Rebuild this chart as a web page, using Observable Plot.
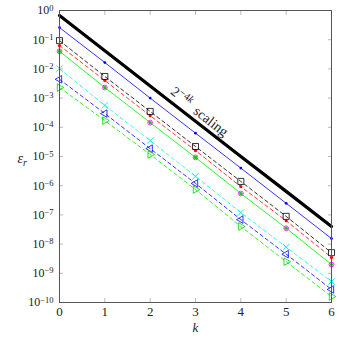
<!DOCTYPE html>
<html><head><meta charset="utf-8">
<script src="https://cdn.jsdelivr.net/npm/d3@7"></script>
<script src="https://cdn.jsdelivr.net/npm/@observablehq/plot@0.6"></script>
<style>body{margin:0;background:#fff}</style>
</head><body><div id="chart"></div>
<script>
const k = [0, 1, 2, 3, 4, 5, 6];
const yTicks = [1, 1e-1, 1e-2, 1e-3, 1e-4, 1e-5, 1e-6, 1e-7, 1e-8, 1e-9, 1e-10];
const scalingRef = [0.68, 4.2e-2, 2.6e-3, 1.6e-4, 1.0e-5, 6.4e-7, 4.0e-8];
const blueSolid = [0.26, 1.65e-2, 1.0e-3, 6.3e-5, 4.0e-6, 2.5e-7, 1.55e-8];
const blackSquares = [0.093, 5.5e-3, 3.5e-4, 2.2e-5, 1.4e-6, 8.9e-8, 5.1e-9];
const redDashed = [0.063, 4.0e-3, 2.5e-4, 1.6e-5, 9.3e-7, 6.3e-8, 3.5e-9];
const greenSolid = [0.040, 2.3e-3, 1.45e-4, 9.3e-6, 5.4e-7, 3.5e-8, 2.0e-9];
const magentaCircles = [0.040, 2.3e-3, 1.45e-4, 9.3e-6, 5.4e-7, 3.5e-8, 2.0e-9];
const cyanDashed = [0.0102, 5.6e-4, 3.5e-5, 2.1e-6, 1.2e-7, 7.9e-9, 5.2e-10];
const blueDashed = [4.4e-3, 2.95e-4, 1.86e-5, 1.2e-6, 6.9e-8, 4.5e-9, 2.8e-10];
const greenDashed = [2.3e-3, 1.7e-4, 1.17e-5, 7.4e-7, 4.0e-8, 2.5e-9, 1.6e-10];
const annotation = {k: 3.1, e: 3.6e-4, text: "2^-4k scaling"};

const rows = vals => k.map((kk, i) => ({k: kk, e: vals[i]}));
const dash = "3.5,3";
const font = "'Liberation Serif', 'DejaVu Serif', serif";

const chart = Plot.plot({
  width: 339, height: 339,
  marginLeft: 59, marginRight: 8, marginTop: 10, marginBottom: 37,
  style: {fontFamily: font, fontSize: "12px", color: "#222", background: "white"},
  x: {domain: [0, 6]},
  y: {type: "log", domain: [1e-10, 1]},
  marks: [
    Plot.axisX(k, {anchor: "bottom", tickSize: 4, dy: -4, tickFormat: () => "", label: null, stroke: "#bbb"}),
    Plot.axisX(k, {anchor: "top", tickSize: 4, dy: 4, tickFormat: () => "", label: null, stroke: "#bbb"}),
    Plot.axisY(yTicks, {anchor: "left", tickSize: 4, dx: 4, tickFormat: () => "", label: null, stroke: "#bbb"}),
    Plot.axisY(yTicks, {anchor: "right", tickSize: 4, dx: -4, tickFormat: () => "", label: null, stroke: "#bbb"}),
    Plot.axisX(k, {anchor: "bottom", tickSize: 0, tickPadding: 4, label: null, fontSize: 13, fill: "#222"}),
    Plot.axisY(yTicks, {anchor: "left", tickSize: 0, tickPadding: 6, label: null, fontSize: 12, fill: "#222",
      tickFormat: d => String(Math.round(Math.log10(d)))}),

    Plot.line(rows(scalingRef), {x: "k", y: "e", stroke: "black", strokeWidth: 3.2}),
    Plot.line(rows(blueSolid), {x: "k", y: "e", stroke: "#0000ff", strokeWidth: 0.8}),
    Plot.dot(rows(blueSolid), {x: "k", y: "e", fill: "#0000ff", r: 1.4}),
    Plot.line(rows(blackSquares), {x: "k", y: "e", stroke: "black", strokeWidth: 0.8, strokeDasharray: dash}),
    Plot.line(rows(redDashed), {x: "k", y: "e", stroke: "#ff0000", strokeWidth: 0.8, strokeDasharray: dash}),
    Plot.dot(rows(redDashed), {x: "k", y: "e", fill: "#ff0000", r: 1.6}),
    Plot.line(rows(greenSolid), {x: "k", y: "e", stroke: "#00ee00", strokeWidth: 0.8}),
    Plot.dot(rows(greenSolid), {x: "k", y: "e", fill: "#00cc00", r: 1.6}),
    Plot.dot(rows(magentaCircles), {x: "k", y: "e", stroke: "#ff00ff", strokeWidth: 0.8, r: 2.4}),
    Plot.line(rows(cyanDashed), {x: "k", y: "e", stroke: "#00ffff", strokeWidth: 0.8, strokeDasharray: dash}),
    Plot.dot(rows(cyanDashed), {x: "k", y: "e", symbol: "times", stroke: "#00e5e5", strokeWidth: 0.9, r: 3}),
    Plot.line(rows(blueDashed), {x: "k", y: "e", stroke: "#0000ff", strokeWidth: 0.8, strokeDasharray: dash}),
    Plot.dot(rows(blueDashed), {x: "k", y: "e", symbol: "triangle", rotate: -90, stroke: "#0000ff", strokeWidth: 0.8, r: 2.8}),
    Plot.line(rows(greenDashed), {x: "k", y: "e", stroke: "#00ee00", strokeWidth: 0.8, strokeDasharray: dash}),
    Plot.dot(rows(greenDashed), {x: "k", y: "e", symbol: "triangle", rotate: 90, stroke: "#00cc00", strokeWidth: 0.8, r: 2.8}),
    Plot.dot(rows(blackSquares), {x: "k", y: "e", symbol: "square", stroke: "black", fill: "white", fillOpacity: 0, strokeWidth: 0.8, r: 3.4}),

    Plot.text([annotation], {x: "k", y: "e", text: "text", rotate: 37.8, fontSize: 14, fill: "#222", textAnchor: "middle"}),
    Plot.text(["εr"], {frameAnchor: "left", dx: -42, dy: 2, text: d => d, fontSize: 14, fontStyle: "italic", fill: "#222"}),
    Plot.text(["k"], {frameAnchor: "bottom", dy: 29, text: d => d, fontSize: 13, fontStyle: "italic", fill: "#222"}),
    Plot.frame({stroke: "#555", strokeWidth: 1})
  ]
});
document.getElementById("chart").appendChild(chart);

const svg = d3.select(chart);
svg.selectAll("text").each(function() {
  const t = d3.select(this);
  const s = this.textContent;
  if (/^-?\d+$/.test(s) && this.closest('g[aria-label="y-axis tick label"]')) {
    const n = +s;
    t.text("10");
    t.append("tspan").attr("dy", "-0.45em").attr("font-size", "8.5px").text(n === 0 ? "0" : "\u2212" + Math.abs(n));
  } else if (s === "2^-4k scaling") {
    t.text("2");
    t.append("tspan").attr("dy", "-0.45em").attr("font-size", "10.5px").text("\u22124");
    t.append("tspan").attr("font-size", "10.5px").attr("font-style", "italic").text("k");
    t.append("tspan").attr("dy", "0.45em").text("\u2002scaling");
  } else if (s === "εr") {
    t.text("ε");
    t.append("tspan").attr("dy", "0.3em").attr("font-size", "10px").text("r");
  }
});
</script>
</body></html>
